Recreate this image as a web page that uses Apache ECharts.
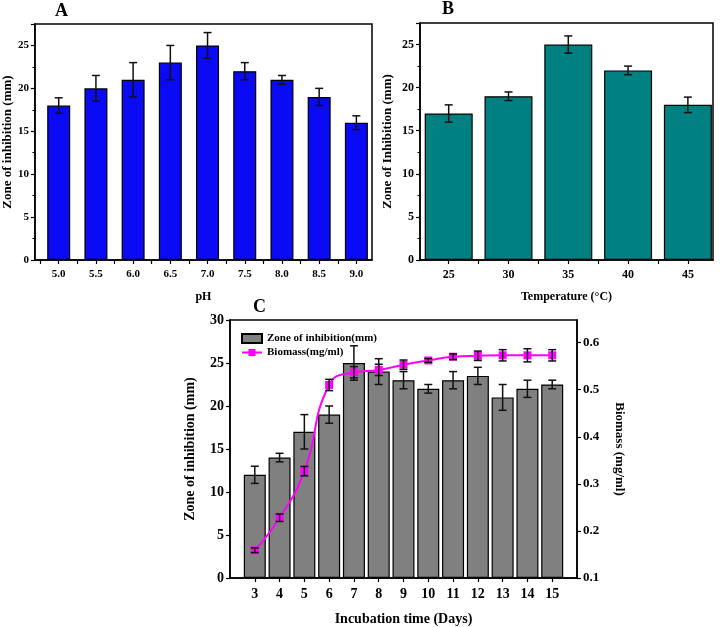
<!DOCTYPE html>
<html><head><meta charset="utf-8">
<script src="https://cdn.jsdelivr.net/npm/echarts@6/dist/echarts.min.js"></script>
<style>html,body{margin:0;padding:0;background:#fff}#c{width:722px;height:627px}</style>
</head><body><div id="c"></div>
<script>
// Panel A: pH
const phValues = [5.0,5.5,6.0,6.5,7.0,7.5,8.0,8.5,9.0];
const phZone = [18,20,21,23,25,22,21,19,16];
const phErr = [0.9,1.5,2,2,1.5,1,0.5,1,0.8];
// Panel B: temperature
const tempValues = [25,30,35,40,45];
const tempZone = [17,19,25,22,18];
const tempErr = [1,0.5,1,0.5,0.9];
// Panel C: incubation time
const days = [3,4,5,6,7,8,9,10,11,12,13,14,15];
const dayZone = [12,14,17,19,25,24,23,22,23,23.5,21,22,22.5];
const dayZoneErr = [1,0.5,2,1,2,1.5,1,0.5,1,1,1.5,1,0.5];
const biomass = [0.159,0.228,0.327,0.510,0.537,0.542,0.553,0.562,0.570,0.572,0.573,0.573,0.573];
const biomassErr = [0.005,0.008,0.01,0.012,0.012,0.012,0.01,0.004,0.006,0.01,0.012,0.014,0.012];

const FONT = '"Liberation Serif","DejaVu Serif",serif';
const chart = echarts.init(document.getElementById('c'));

function errRender(params, api){
  const x = api.value(0), lo = api.value(1), hi = api.value(2);
  const p1 = api.coord([x, hi]), p2 = api.coord([x, lo]);
  const w = 4;
  const st = {stroke:'#111', lineWidth:1.5};
  return {type:'group', children:[
    {type:'line', shape:{x1:p1[0],y1:p1[1],x2:p2[0],y2:p2[1]}, style:st},
    {type:'line', shape:{x1:p1[0]-w,y1:p1[1],x2:p1[0]+w,y2:p1[1]}, style:st},
    {type:'line', shape:{x1:p2[0]-w,y1:p2[1],x2:p2[0]+w,y2:p2[1]}, style:st}
  ]};
}
function errData(xs, vals, errs){ return vals.map((v,i)=>[xs[i], v-errs[i], v+errs[i]]); }
// tick marks at each label and halfway between neighbouring labels
function withMidTicks(vals){
  const step = vals[1]-vals[0];
  const out = [vals[0]-step/2];
  vals.forEach(v=>{ out.push(v); out.push(v+step/2); });
  return out;
}

const axLine = {show:true, lineStyle:{color:'#000', width:1.5}};
const tickOut = {show:true, inside:false, length:4, lineStyle:{color:'#000', width:1.2}};
function lbl(size){ return {color:'#000', fontFamily:FONT, fontWeight:'bold', fontSize:size}; }
function nameSt(size){ return {color:'#000', fontFamily:FONT, fontWeight:'bold', fontSize:size}; }
const minorT = {show:true, splitNumber:2, length:2.5, lineStyle:{color:'#000', width:1}};

const option = {
  animation:false,
  backgroundColor:'#fff',
  textStyle:{fontFamily:FONT},
  graphic:[
    {type:'text', left:55, top:2, style:{text:'A', font:'bold 18px '+FONT, fill:'#000'}},
    {type:'text', left:442, top:0, style:{text:'B', font:'bold 18px '+FONT, fill:'#000'}},
    {type:'text', left:253, top:298, style:{text:'C', font:'bold 18px '+FONT, fill:'#000'}}
  ],
  grid:[
    {left:34, top:24, width:338, height:236, show:true, borderColor:'#000', borderWidth:1.5, backgroundColor:'transparent'},
    {left:420, top:23, width:293, height:237, show:true, borderColor:'#000', borderWidth:1.5, backgroundColor:'transparent'},
    {left:230, top:320, width:347, height:258, show:true, borderColor:'#000', borderWidth:1.5, backgroundColor:'transparent'}
  ],
  legend:{
    left:236, top:328, orient:'vertical', itemGap:3, itemWidth:20, itemHeight:9,
    textStyle:{color:'#000', fontFamily:FONT, fontWeight:'bold', fontSize:11},
    data:[{name:'Zone of inhibition(mm)', icon:'rect'},{name:'Biomass(mg/ml)'}]
  },
  xAxis:[
    {type:'value', gridIndex:0, min:4.68, max:9.21, axisLine:axLine,
     axisTick:Object.assign({customValues:withMidTicks(phValues)}, tickOut),
     axisLabel:Object.assign({margin:9, customValues:phValues, formatter:v=>v.toFixed(1)}, lbl(11)),
     name:'pH', nameLocation:'middle', nameGap:31, nameTextStyle:nameSt(12), splitLine:{show:false}},
    {type:'value', gridIndex:1, min:22.6, max:47.1, axisLine:axLine,
     axisTick:Object.assign({customValues:withMidTicks(tempValues)}, tickOut),
     axisLabel:Object.assign({margin:9, customValues:tempValues, formatter:v=>String(v)}, lbl(12)),
     name:'Temperature (°C)', nameLocation:'middle', nameGap:31, nameTextStyle:nameSt(12), splitLine:{show:false}},
    {type:'value', gridIndex:2, min:2, max:16, interval:1, axisLine:axLine, axisTick:tickOut,
     axisLabel:Object.assign({margin:9, showMinLabel:false, showMaxLabel:false}, lbl(14)),
     name:'Incubation time (Days)', nameLocation:'middle', nameGap:34, nameTextStyle:nameSt(14), splitLine:{show:false}}
  ],
  yAxis:[
    {type:'value', gridIndex:0, min:0, max:27.5, interval:5, axisLine:axLine, axisTick:tickOut, minorTick:minorT,
     axisLabel:Object.assign({margin:6, showMaxLabel:false}, lbl(11)), splitLine:{show:false},
     name:'Zone of inhibition (mm)', nameLocation:'middle', nameGap:20, nameTextStyle:nameSt(13)},
    {type:'value', gridIndex:1, min:0, max:27.5, interval:5, axisLine:axLine, axisTick:tickOut, minorTick:minorT,
     axisLabel:Object.assign({margin:6, showMaxLabel:false}, lbl(12)), splitLine:{show:false},
     name:'Zone of Inhibition (mm)', nameLocation:'middle', nameGap:26, nameTextStyle:nameSt(13)},
    {type:'value', gridIndex:2, min:0, max:30, interval:5, axisLine:axLine, axisTick:tickOut,
     axisLabel:Object.assign({margin:6}, lbl(14)), splitLine:{show:false},
     name:'Zone of inhibition (mm)', nameLocation:'middle', nameGap:33, nameTextStyle:nameSt(14)},
    {type:'value', gridIndex:2, position:'right', min:0.1, max:0.648, interval:0.1, axisLine:axLine, axisTick:tickOut,
     axisLabel:Object.assign({margin:6, showMaxLabel:false, formatter:v=>v.toFixed(1)}, lbl(13)), splitLine:{show:false},
     name:'Biomass (mg/ml)', nameLocation:'middle', nameGap:36, nameRotate:-90, nameTextStyle:nameSt(13)}
  ],
  series:[
    {type:'bar', xAxisIndex:0, yAxisIndex:0, data:phValues.map((p,i)=>[p, phZone[i]]), barWidth:23,
     itemStyle:{color:'#0a0af5', borderColor:'#000', borderWidth:1.2}},
    {type:'custom', xAxisIndex:0, yAxisIndex:0, renderItem:errRender, data:errData(phValues, phZone, phErr), z:5},
    {type:'bar', xAxisIndex:1, yAxisIndex:1, data:tempValues.map((t,i)=>[t, tempZone[i]]), barWidth:48,
     itemStyle:{color:'#008080', borderColor:'#000', borderWidth:1.2}},
    {type:'custom', xAxisIndex:1, yAxisIndex:1, renderItem:errRender, data:errData(tempValues, tempZone, tempErr), z:5},
    {name:'Zone of inhibition(mm)', type:'bar', xAxisIndex:2, yAxisIndex:2, data:days.map((d,i)=>[d, dayZone[i]]), barWidth:22,
     itemStyle:{color:'#808080', borderColor:'#000', borderWidth:1.2}},
    {type:'custom', xAxisIndex:2, yAxisIndex:2, renderItem:errRender, data:errData(days, dayZone, dayZoneErr), z:5},
    {name:'Biomass(mg/ml)', type:'line', xAxisIndex:2, yAxisIndex:3, data:days.map((d,i)=>[d, biomass[i]]), smooth:0.5,
     symbol:'rect', symbolSize:8, lineStyle:{color:'#ff00ff', width:2}, itemStyle:{color:'#ff00ff'}, z:6},
    {type:'custom', xAxisIndex:2, yAxisIndex:3, renderItem:errRender, data:errData(days, biomass, biomassErr), z:7}
  ]
};
chart.setOption(option);
</script></body></html>
